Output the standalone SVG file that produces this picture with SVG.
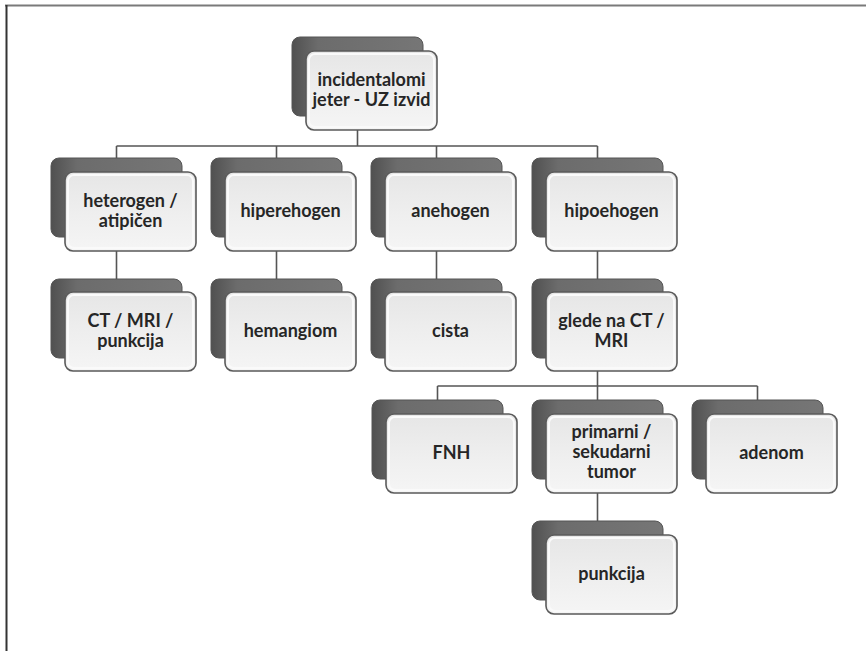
<svg xmlns="http://www.w3.org/2000/svg" width="866" height="651" viewBox="0 0 866 651">
  <defs>
    <linearGradient id="backFill" x1="0" y1="0" x2="1" y2="0">
      <stop offset="0" stop-color="#505050"/>
      <stop offset="0.2" stop-color="#6c6c6c"/>
      <stop offset="1" stop-color="#767676"/>
    </linearGradient>
    <linearGradient id="frontFill" x1="0" y1="0" x2="0" y2="1">
      <stop offset="0" stop-color="#e6e6e6"/>
      <stop offset="0.5" stop-color="#eeeeee"/>
      <stop offset="1" stop-color="#f5f5f5"/>
    </linearGradient>
  </defs>
  <style>
    .back { fill: url(#backFill); stroke: #555; stroke-width: 1; }
    .front { fill: url(#frontFill); stroke: #5a5a5a; stroke-width: 1.6; }
    .inner { fill: none; stroke: #fafafa; stroke-width: 2; }
    .lbl { font-family: Lato, "Open Sans", "Liberation Sans", sans-serif; font-weight: 700; font-size: 18px; fill: #262626; text-anchor: middle; }
    .wire { fill: none; stroke: #555; stroke-width: 1.6; }
    .frame-top { stroke: #7a7a7a; stroke-width: 2; }
    .frame-left { stroke: #333; stroke-width: 2; }
  </style>

  <rect width="866" height="651" fill="#ffffff"/>

  <!-- page frame -->
  <line class="frame-top" x1="5" y1="5.5" x2="866" y2="5.5"/>
  <line class="frame-left" x1="6.5" y1="5" x2="6.5" y2="651"/>

  <!-- connectors -->
  <g id="connectors">
    <path class="wire" d="M357.5 130 V146 M116.5 146 H597.5 M116.5 146 V158 M276.5 146 V158 M436.5 146 V158 M597.5 146 V158"/>
    <path class="wire" d="M116.5 251 V279 M276.5 251 V279 M436.5 251 V279 M597.5 251 V279"/>
    <path class="wire" d="M597.5 371 V386 M437.5 386 H757.5 M437.5 386 V400 M597.5 386 V400 M757.5 386 V400"/>
    <path class="wire" d="M597.5 493 V521"/>
  </g>

  <!-- root -->
  <g id="n0">
    <rect class="back" x="292" y="37" width="131" height="79" rx="8"/>
    <rect class="front" x="306" y="51" width="131" height="79" rx="8"/>
    <rect class="inner" x="309" y="54" width="125" height="73" rx="6"/>
    <text class="lbl" x="371.5" y="86">incidentalomi</text>
    <text class="lbl" x="371.5" y="106">jeter - UZ izvid</text>
  </g>

  <!-- first level -->
  <g id="n1">
    <rect class="back" x="51" y="158" width="131" height="79" rx="8"/>
    <rect class="front" x="65" y="172" width="131" height="79" rx="8"/>
    <rect class="inner" x="68" y="175" width="125" height="73" rx="6"/>
    <text class="lbl" x="130.5" y="207">heterogen /</text>
    <text class="lbl" x="130.5" y="227">atipičen</text>
  </g>
  <g id="n2">
    <rect class="back" x="211" y="158" width="131" height="79" rx="8"/>
    <rect class="front" x="225" y="172" width="131" height="79" rx="8"/>
    <rect class="inner" x="228" y="175" width="125" height="73" rx="6"/>
    <text class="lbl" x="290.5" y="217">hiperehogen</text>
  </g>
  <g id="n3">
    <rect class="back" x="371" y="158" width="131" height="79" rx="8"/>
    <rect class="front" x="385" y="172" width="131" height="79" rx="8"/>
    <rect class="inner" x="388" y="175" width="125" height="73" rx="6"/>
    <text class="lbl" x="450.5" y="217">anehogen</text>
  </g>
  <g id="n4">
    <rect class="back" x="532" y="158" width="131" height="79" rx="8"/>
    <rect class="front" x="546" y="172" width="131" height="79" rx="8"/>
    <rect class="inner" x="549" y="175" width="125" height="73" rx="6"/>
    <text class="lbl" x="611.5" y="217">hipoehogen</text>
  </g>

  <!-- second level -->
  <g id="n5">
    <rect class="back" x="51" y="279" width="131" height="79" rx="8"/>
    <rect class="front" x="65" y="292" width="131" height="79" rx="8"/>
    <rect class="inner" x="68" y="295" width="125" height="73" rx="6"/>
    <text class="lbl" x="130.5" y="327">CT / MRI /</text>
    <text class="lbl" x="130.5" y="347">punkcija</text>
  </g>
  <g id="n6">
    <rect class="back" x="211" y="279" width="131" height="79" rx="8"/>
    <rect class="front" x="225" y="292" width="131" height="79" rx="8"/>
    <rect class="inner" x="228" y="295" width="125" height="73" rx="6"/>
    <text class="lbl" x="290.5" y="337">hemangiom</text>
  </g>
  <g id="n7">
    <rect class="back" x="371" y="279" width="131" height="79" rx="8"/>
    <rect class="front" x="385" y="292" width="131" height="79" rx="8"/>
    <rect class="inner" x="388" y="295" width="125" height="73" rx="6"/>
    <text class="lbl" x="450.5" y="337">cista</text>
  </g>
  <g id="n8">
    <rect class="back" x="532" y="279" width="131" height="79" rx="8"/>
    <rect class="front" x="546" y="292" width="131" height="79" rx="8"/>
    <rect class="inner" x="549" y="295" width="125" height="73" rx="6"/>
    <text class="lbl" x="611.5" y="327">glede na CT /</text>
    <text class="lbl" x="611.5" y="347">MRI</text>
  </g>

  <!-- third level -->
  <g id="n9">
    <rect class="back" x="372" y="400" width="131" height="79" rx="8"/>
    <rect class="front" x="386" y="414" width="131" height="79" rx="8"/>
    <rect class="inner" x="389" y="417" width="125" height="73" rx="6"/>
    <text class="lbl" x="451.5" y="459">FNH</text>
  </g>
  <g id="n10">
    <rect class="back" x="532" y="400" width="131" height="79" rx="8"/>
    <rect class="front" x="546" y="414" width="131" height="79" rx="8"/>
    <rect class="inner" x="549" y="417" width="125" height="73" rx="6"/>
    <text class="lbl" x="611.5" y="438">primarni /</text>
    <text class="lbl" x="611.5" y="458">sekudarni</text>
    <text class="lbl" x="611.5" y="478">tumor</text>
  </g>
  <g id="n11">
    <rect class="back" x="692" y="400" width="131" height="79" rx="8"/>
    <rect class="front" x="706" y="414" width="131" height="79" rx="8"/>
    <rect class="inner" x="709" y="417" width="125" height="73" rx="6"/>
    <text class="lbl" x="771.5" y="459">adenom</text>
  </g>

  <!-- fourth level -->
  <g id="n12">
    <rect class="back" x="532" y="521" width="131" height="79" rx="8"/>
    <rect class="front" x="546" y="535" width="131" height="79" rx="8"/>
    <rect class="inner" x="549" y="538" width="125" height="73" rx="6"/>
    <text class="lbl" x="611.5" y="580">punkcija</text>
  </g>
</svg>
